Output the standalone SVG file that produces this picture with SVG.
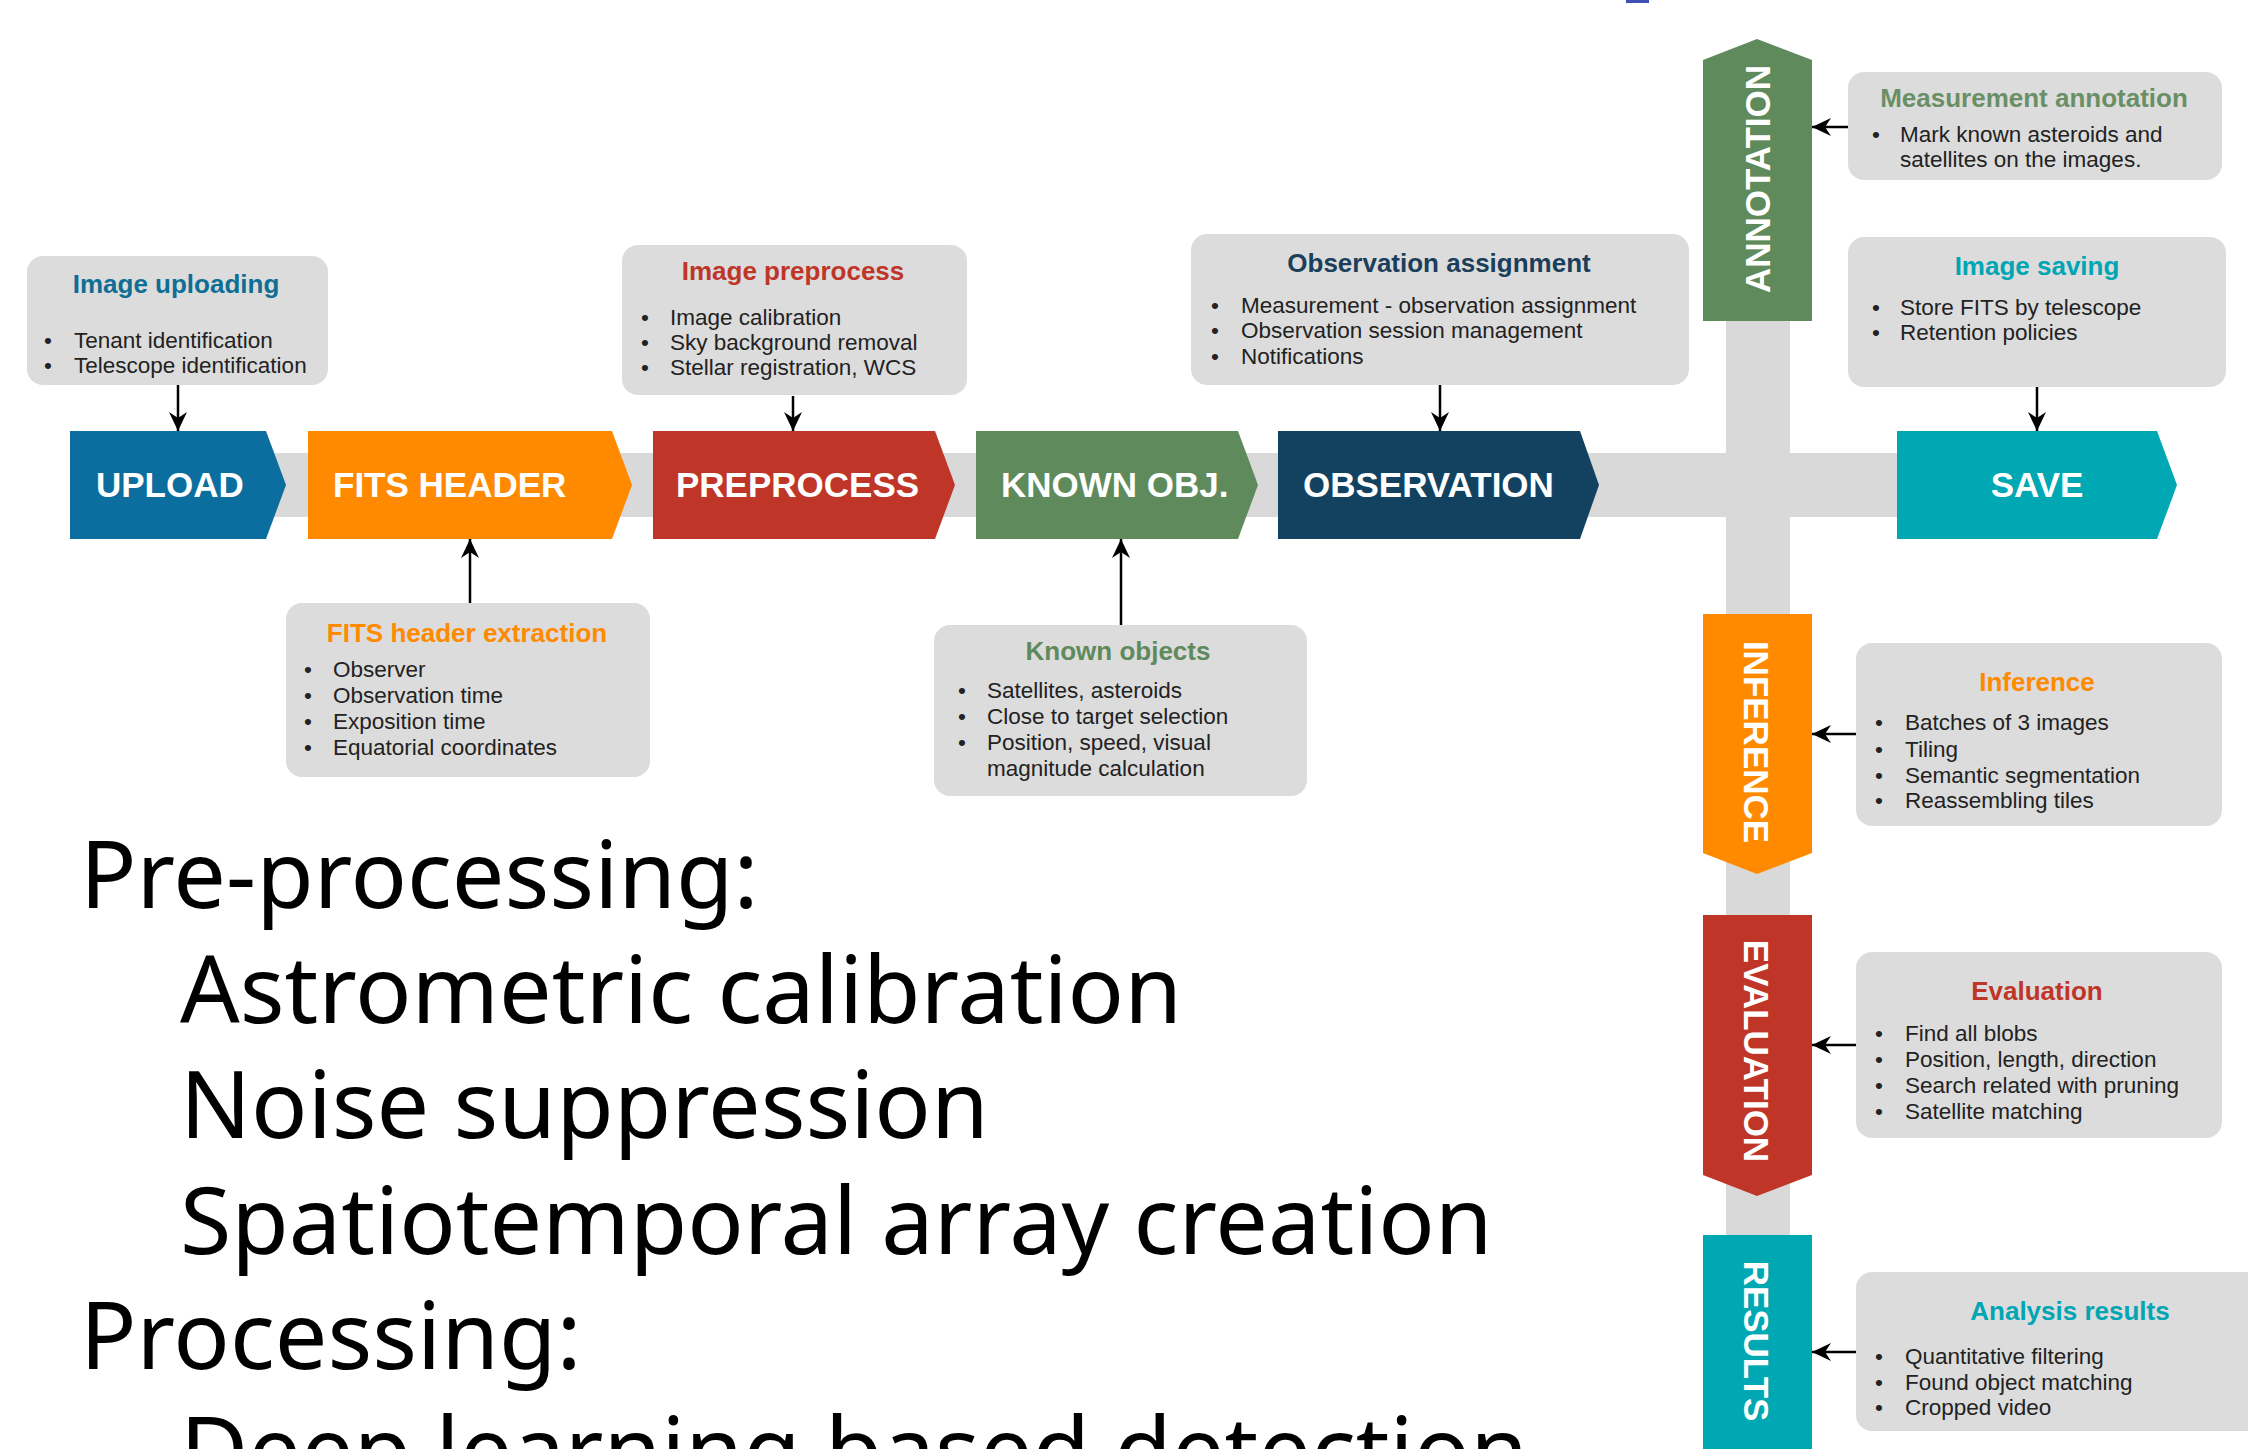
<svg xmlns="http://www.w3.org/2000/svg" width="2248" height="1449" viewBox="0 0 2248 1449">
  <defs>
    <marker id="head" viewBox="0 0 19 18" markerWidth="19" markerHeight="18" refX="19" refY="9" orient="auto" markerUnits="userSpaceOnUse">
      <path d="M0,0 L19,9 L0,18 L6,9 z" fill="#000"/>
    </marker>
    <style>
      .band { fill: #d9d9d9; }
      .note { fill: #dcdcdc; }
      .stage { font-family: "Liberation Sans", Arial, sans-serif; font-weight: bold; font-size: 35px; fill: #ffffff; }
      .title { font-family: "Liberation Sans", Arial, sans-serif; font-weight: bold; font-size: 26px; text-anchor: middle; }
      .item { font-family: "Liberation Sans", Arial, sans-serif; font-size: 22.5px; fill: #222222; }
      .big { font-family: "Noto Sans", "Liberation Sans", sans-serif; font-size: 93.5px; fill: #000000; }
      .link { stroke: #000; stroke-width: 2.5; fill: none; marker-end: url(#head); }
      .blue { fill: #0b6e9e; }
      .orange { fill: #ff8a00; }
      .red { fill: #bf3528; }
      .green { fill: #5f8a5b; }
      .navy { fill: #124260; }
      .teal { fill: #00a8b3; }
    </style>
  </defs>

  <rect width="2248" height="1449" fill="#ffffff"/>
  <rect x="1626" y="0" width="23" height="3" fill="#3f51b5"/>

  <!-- pipeline backbone -->
  <g id="backbone">
    <rect class="band" x="70" y="453" width="1827" height="64"/>
    <rect class="band" x="1726" y="60" width="64" height="1389"/>
  </g>

  <!-- horizontal stages -->
  <g id="stage-upload">
    <polygon class="blue" points="70,431 266,431 286,485 266,539 70,539"/>
    <text class="stage" x="96" y="497">UPLOAD</text>
  </g>
  <g id="stage-fits">
    <polygon class="orange" points="308,431 612,431 632,485 612,539 308,539"/>
    <text class="stage" x="333" y="497">FITS HEADER</text>
  </g>
  <g id="stage-preprocess">
    <polygon class="red" points="653,431 935,431 955,485 935,539 653,539"/>
    <text class="stage" x="676" y="497">PREPROCESS</text>
  </g>
  <g id="stage-known">
    <polygon class="green" points="976,431 1238,431 1258,485 1238,539 976,539"/>
    <text class="stage" x="1001" y="497">KNOWN OBJ.</text>
  </g>
  <g id="stage-observation">
    <polygon class="navy" points="1278,431 1580,431 1599,485 1580,539 1278,539"/>
    <text class="stage" x="1303" y="497">OBSERVATION</text>
  </g>
  <g id="stage-save">
    <polygon class="teal" points="1897,431 2157,431 2177,485 2157,539 1897,539"/>
    <text class="stage" x="2037" y="497" text-anchor="middle">SAVE</text>
  </g>

  <!-- vertical stages -->
  <g id="stage-annotation">
    <polygon class="green" points="1703,60 1757,39 1812,60 1812,321 1703,321"/>
    <text class="stage" transform="translate(1770,179) rotate(-90)" text-anchor="middle">ANNOTATION</text>
  </g>
  <g id="stage-inference">
    <polygon class="orange" points="1703,614 1812,614 1812,853 1757,874 1703,853"/>
    <text class="stage" transform="translate(1744,742) rotate(90)" text-anchor="middle">INFERENCE</text>
  </g>
  <g id="stage-evaluation">
    <polygon class="red" points="1703,915 1812,915 1812,1175 1757,1196 1703,1175"/>
    <text class="stage" transform="translate(1744,1051) rotate(90)" text-anchor="middle">EVALUATION</text>
  </g>
  <g id="stage-results">
    <rect class="teal" x="1703" y="1235" width="109" height="214"/>
    <text class="stage" transform="translate(1744,1341) rotate(90)" text-anchor="middle">RESULTS</text>
  </g>

  <!-- description cards -->
  <g id="note-upload">
    <rect class="note" x="27" y="256" width="301" height="129" rx="16"/>
    <text class="title" x="176" y="293" fill="#0f6e94">Image uploading</text>
    <text class="item" x="44" y="348">•</text><text class="item" x="74" y="348">Tenant identification</text>
    <text class="item" x="44" y="373">•</text><text class="item" x="74" y="373">Telescope identification</text>
  </g>
  <g id="note-preprocess">
    <rect class="note" x="622" y="245" width="345" height="150" rx="16"/>
    <text class="title" x="793" y="280" fill="#bf3528">Image preprocess</text>
    <text class="item" x="641" y="325">•</text><text class="item" x="670" y="325">Image calibration</text>
    <text class="item" x="641" y="350">•</text><text class="item" x="670" y="350">Sky background removal</text>
    <text class="item" x="641" y="375">•</text><text class="item" x="670" y="375">Stellar registration, WCS</text>
  </g>
  <g id="note-observation">
    <rect class="note" x="1191" y="234" width="498" height="151" rx="16"/>
    <text class="title" x="1439" y="272" fill="#1b3f5a">Observation assignment</text>
    <text class="item" x="1211" y="313">•</text><text class="item" x="1241" y="313">Measurement - observation assignment</text>
    <text class="item" x="1211" y="338">•</text><text class="item" x="1241" y="338">Observation session management</text>
    <text class="item" x="1211" y="364">•</text><text class="item" x="1241" y="364">Notifications</text>
  </g>
  <g id="note-annotation">
    <rect class="note" x="1848" y="72" width="374" height="108" rx="16"/>
    <text class="title" x="2034" y="107" fill="#6a8f66">Measurement annotation</text>
    <text class="item" x="1872" y="142">•</text><text class="item" x="1900" y="142">Mark known asteroids and</text>
    <text class="item" x="1900" y="167">satellites on the images.</text>
  </g>
  <g id="note-saving">
    <rect class="note" x="1848" y="237" width="378" height="150" rx="16"/>
    <text class="title" x="2037" y="275" fill="#00a6b4">Image saving</text>
    <text class="item" x="1872" y="315">•</text><text class="item" x="1900" y="315">Store FITS by telescope</text>
    <text class="item" x="1872" y="340">•</text><text class="item" x="1900" y="340">Retention policies</text>
  </g>
  <g id="note-fits">
    <rect class="note" x="286" y="603" width="364" height="174" rx="16"/>
    <text class="title" x="467" y="642" fill="#ff8a00">FITS header extraction</text>
    <text class="item" x="304" y="677">•</text><text class="item" x="333" y="677">Observer</text>
    <text class="item" x="304" y="703">•</text><text class="item" x="333" y="703">Observation time</text>
    <text class="item" x="304" y="729">•</text><text class="item" x="333" y="729">Exposition time</text>
    <text class="item" x="304" y="755">•</text><text class="item" x="333" y="755">Equatorial coordinates</text>
  </g>
  <g id="note-known">
    <rect class="note" x="934" y="625" width="373" height="171" rx="16"/>
    <text class="title" x="1118" y="660" fill="#5f8a5b">Known objects</text>
    <text class="item" x="958" y="698">•</text><text class="item" x="987" y="698">Satellites, asteroids</text>
    <text class="item" x="958" y="724">•</text><text class="item" x="987" y="724">Close to target selection</text>
    <text class="item" x="958" y="750">•</text><text class="item" x="987" y="750">Position, speed, visual</text>
    <text class="item" x="987" y="776">magnitude calculation</text>
  </g>
  <g id="note-inference">
    <rect class="note" x="1856" y="643" width="366" height="183" rx="16"/>
    <text class="title" x="2037" y="691" fill="#ff8a00">Inference</text>
    <text class="item" x="1875" y="730">•</text><text class="item" x="1905" y="730">Batches of 3 images</text>
    <text class="item" x="1875" y="757">•</text><text class="item" x="1905" y="757">Tiling</text>
    <text class="item" x="1875" y="783">•</text><text class="item" x="1905" y="783">Semantic segmentation</text>
    <text class="item" x="1875" y="808">•</text><text class="item" x="1905" y="808">Reassembling tiles</text>
  </g>
  <g id="note-evaluation">
    <rect class="note" x="1856" y="952" width="366" height="186" rx="16"/>
    <text class="title" x="2037" y="1000" fill="#bf3528">Evaluation</text>
    <text class="item" x="1875" y="1041">•</text><text class="item" x="1905" y="1041">Find all blobs</text>
    <text class="item" x="1875" y="1067">•</text><text class="item" x="1905" y="1067">Position, length, direction</text>
    <text class="item" x="1875" y="1093">•</text><text class="item" x="1905" y="1093">Search related with pruning</text>
    <text class="item" x="1875" y="1119">•</text><text class="item" x="1905" y="1119">Satellite matching</text>
  </g>
  <g id="note-results">
    <rect class="note" x="1856" y="1272" width="420" height="159" rx="16"/>
    <text class="title" x="2070" y="1320" fill="#00a6b4">Analysis results</text>
    <text class="item" x="1875" y="1364">•</text><text class="item" x="1905" y="1364">Quantitative filtering</text>
    <text class="item" x="1875" y="1390">•</text><text class="item" x="1905" y="1390">Found object matching</text>
    <text class="item" x="1875" y="1415">•</text><text class="item" x="1905" y="1415">Cropped video</text>
  </g>

  <!-- connectors -->
  <g id="connectors">
    <line class="link" x1="178" y1="385" x2="178" y2="431"/>
    <line class="link" x1="793" y1="396" x2="793" y2="431"/>
    <line class="link" x1="1440" y1="385" x2="1440" y2="431"/>
    <line class="link" x1="2037" y1="387" x2="2037" y2="431"/>
    <line class="link" x1="470" y1="603" x2="470" y2="539"/>
    <line class="link" x1="1121" y1="625" x2="1121" y2="539"/>
    <line class="link" x1="1848" y1="127" x2="1812" y2="127"/>
    <line class="link" x1="1856" y1="734" x2="1812" y2="734"/>
    <line class="link" x1="1856" y1="1045" x2="1812" y2="1045"/>
    <line class="link" x1="1856" y1="1352" x2="1812" y2="1352"/>
  </g>

  <!-- processing outline -->
  <g id="outline">
    <text class="big" x="80" y="908">Pre-processing:</text>
    <text class="big" x="180" y="1023">Astrometric calibration</text>
    <text class="big" x="180" y="1138">Noise suppression</text>
    <text class="big" x="180" y="1254">Spatiotemporal array creation</text>
    <text class="big" x="80" y="1369">Processing:</text>
    <text class="big" x="180" y="1484">Deep learning based detection</text>
  </g>
</svg>
